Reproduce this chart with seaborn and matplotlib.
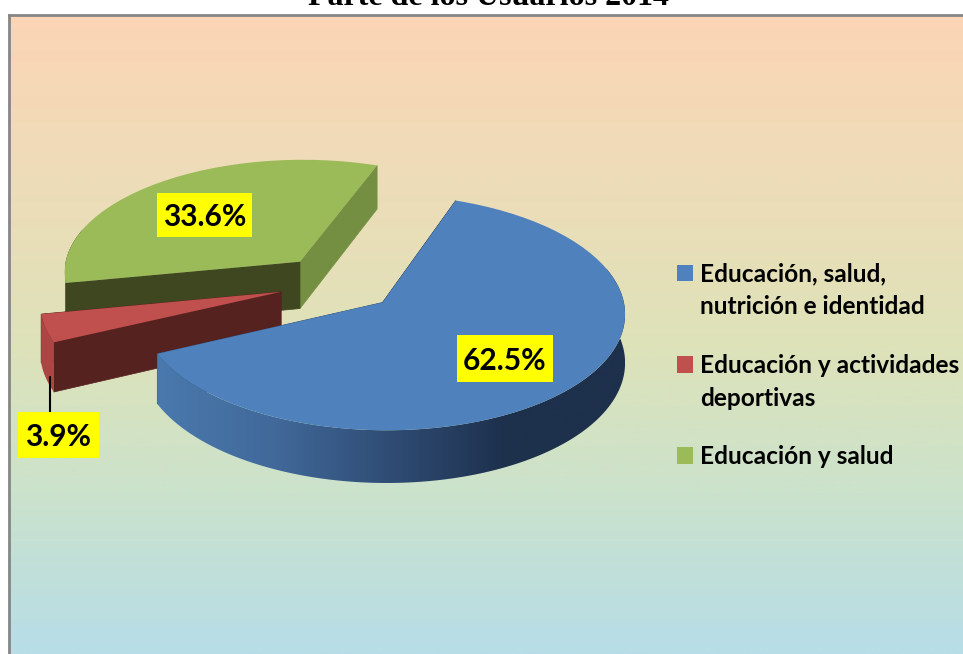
#!/usr/bin/env python3
import numpy as np
import seaborn as sns
from matplotlib import pyplot as plt
from matplotlib.lines import Line2D
from matplotlib.patches import Polygon, Rectangle
from matplotlib.transforms import Transform

title = "Parte de los Usuarios 2014"
categories = ["Educación, salud,\nnutrición e identidad", "Educación y actividades\ndeportivas", "Educación y salud"]
shares = [62.5, 3.9, 33.6]
share_labels = ["62.5%", "3.9%", "33.6%"]
top_colors = ["#4f81bd", "#c0504d", "#9bbb59"]
rim_ramps = [
    ["#4a79ad", "#41699a", "#2f4c74", "#1d304c", "#1d304c"],
    ["#aa4644", "#aa4644"],
    ["#3f4720", "#3f4720"],
]
cut_dark = ["#1d304c", "#562220", "#3f4720"]
cut_light = ["#2f4c74", "#562220", "#748f42"]
label_boxes = [(457, 335, 96, 47), (18, 412, 81, 46), (157, 193, 95, 44)]

W, H = 963, 654
UNIT = 238.0
CENTER = (338.0, 283.0)
THICK = 0.2
TILT = 0.478
PERSP = 0.083

sns.set_theme(style="white")


def project(xy):
    xy = np.asarray(xy, dtype=float)
    s = 1.0 / (1.0 + PERSP * xy[..., 1])
    return np.stack([xy[..., 0] * s, xy[..., 1] * TILT * s], axis=-1)


class Tilted(Transform):
    input_dims = 2
    output_dims = 2

    def transform_non_affine(self, values):
        return project(values)


def side(points, drop=THICK):
    """screen polygon of a strip hanging under the given pie points"""
    top = project(points)
    s = top.copy()
    s[:, 1] -= drop / (1.0 + PERSP * points[:, 1])
    return np.vstack([top, s[::-1]])


fig = plt.figure(figsize=(W / 100, H / 100), dpi=100, facecolor="white")

# chart area with the vertical gradient
bg = fig.add_axes([9 / W, 0, (W - 9) / W, (H - 15) / H])
ramp = sns.blend_palette(["#fcd5b5", "#eedcb8", "#dfe2b8", "#cbe2cc", "#b7dde8"], n_colors=256)
bg.imshow(np.array(ramp)[:, None, :], aspect="auto", interpolation="bilinear")
bg.set_xticks([])
bg.set_yticks([])
for name, spine in bg.spines.items():
    spine.set_visible(name in ("top", "left"))
    spine.set_color("#868686")
    spine.set_linewidth(2)

ax = fig.add_axes([0, 0, 1, 1])
ax.patch.set_alpha(0)
wedges, _ = ax.pie(shares, explode=[0.25, 0.25, 0.25], startangle=70, counterclock=False,
                   colors=top_colors, wedgeprops=dict(linewidth=0))

# back to front: green, red, blue
for z, i in enumerate([2, 1, 0]):
    w = wedges[i]
    cx, cy = w.center
    apex = np.array([cx, cy])
    for theta, color in ((w.theta1, cut_light[i]), (w.theta2, cut_dark[i])):
        tip = apex + np.array([np.cos(np.radians(theta)), np.sin(np.radians(theta))])
        ax.fill(*side(np.array([apex, tip])).T, color=color, lw=0.5, zorder=3 * z + 1)
    arc = np.radians(np.linspace(w.theta1, w.theta2, 300))
    # only the part of the rim that faces the viewer
    arc = arc[np.sin(arc) < 0.3]
    outline = side(apex + np.column_stack([np.cos(arc), np.sin(arc)]))
    clip = Polygon(outline, transform=ax.transData, fc="none", ec="none")
    ax.add_patch(clip)
    shade = np.array(sns.blend_palette(rim_ramps[i], n_colors=256))[None, :, :]
    rim = ax.imshow(shade, aspect="auto", zorder=3 * z + 2, interpolation="bilinear",
                    extent=(outline[:, 0].min(), outline[:, 0].max(), outline[:, 1].min(), outline[:, 1].max()))
    rim.set_clip_path(clip)
    w.set_transform(Tilted() + ax.transData)
    w.set_zorder(3 * z + 3)

ax.set_aspect("auto")
ax.set_xlim(-CENTER[0] / UNIT, (W - CENTER[0]) / UNIT)
ax.set_ylim(-(H - CENTER[1]) / UNIT, CENTER[1] / UNIT)
ax.axis("off")

fig.add_artist(Line2D([50 / W, 50 / W], [1 - 377 / H, 1 - 412 / H], color="black", lw=1.5, zorder=12))

for text, (x, y, bw, bh) in zip(share_labels, label_boxes):
    fig.add_artist(Rectangle((x / W, 1 - (y + bh) / H), bw / W, bh / H, transform=fig.transFigure,
                             facecolor="#ffff00", edgecolor="none", zorder=12))
    fig.text((x + bw / 2) / W, 1 - (y + bh / 2 + 2) / H, text, ha="center", va="center", family="Lato",
             weight="bold", fontsize=21.5, color="black", zorder=13)

fig.text(489 / W, 1 - 5 / H, title, ha="center", va="baseline", family="Liberation Serif",
         weight="bold", fontsize=23, color="black")

legend = fig.legend(wedges, categories, loc="upper left", bbox_to_anchor=(677 / W, 1 - 262 / H), frameon=False,
                    prop=dict(family="Lato", weight="bold", size=17.6), labelcolor="black", handlelength=0.65,
                    handleheight=0.65, handletextpad=0.3, labelspacing=1.45, borderpad=0, borderaxespad=0)
for label, handle in zip(legend.get_texts(), legend.legend_handles):
    label.set_linespacing(1.53)
    if "\n" in label.get_text():
        # the marker sits on the first line of a two line entry
        handle.set_y(handle.get_y() + 13)

fig.savefig("out.png", dpi=100)
